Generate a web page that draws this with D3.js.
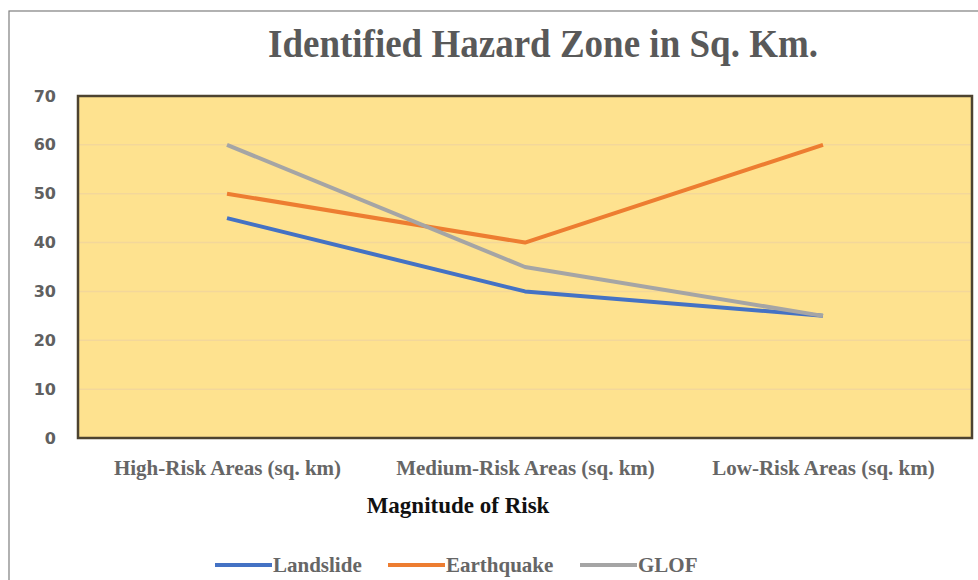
<!DOCTYPE html>
<html>
<head>
<meta charset="utf-8">
<script src="https://cdn.jsdelivr.net/npm/d3@7"></script>
<style>
  body { margin: 0; background: #fff; }
  svg { display: block; }
</style>
</head>
<body>
<svg id="chart" width="978" height="580"></svg>
<script>
// data
var categories = ["High-Risk Areas (sq. km)", "Medium-Risk Areas (sq. km)", "Low-Risk Areas (sq. km)"];
var landslide = [45, 30, 25];
var earthquake = [50, 40, 60];
var glof = [60, 35, 25];
var seriesNames = ["Landslide", "Earthquake", "GLOF"];
var yTicks = [0, 10, 20, 30, 40, 50, 60, 70];

var colors = ["#4472c4", "#ed7d31", "#a5a5a5"];
var series = [landslide, earthquake, glof];

var svg = d3.select("#chart");
var margin = {top: 96, right: 6, bottom: 142, left: 78};
var width = 978 - margin.left - margin.right,
    height = 580 - margin.top - margin.bottom;

// outer frame of the chart
svg.append("rect")
    .attr("x", 9).attr("y", 11)
    .attr("width", 990).attr("height", 600)
    .attr("fill", "#fff")
    .attr("stroke", "#7f7f7f")
    .attr("stroke-width", 1.2);

svg.append("text")
    .attr("x", 543).attr("y", 57)
    .attr("text-anchor", "middle")
    .attr("font-family", "Liberation Serif, serif")
    .attr("font-weight", "bold")
    .attr("font-size", 40)
    .attr("fill", "#595959")
    .attr("textLength", 550)
    .attr("lengthAdjust", "spacingAndGlyphs")
    .text("Identified Hazard Zone in Sq. Km.");

var x = d3.scalePoint().domain(categories).range([0, width]).padding(0.5);
var y = d3.scaleLinear().domain([0, 70]).range([height, 0]);

var g = svg.append("g")
    .attr("transform", "translate(" + margin.left + "," + margin.top + ")");

g.append("rect")
    .attr("width", width).attr("height", height)
    .attr("fill", "#fee28f");

// grid
g.selectAll(".grid")
    .data(yTicks.slice(1, -1)).enter()
  .append("line")
    .attr("x1", 0).attr("x2", width)
    .attr("y1", function(d) { return y(d); })
    .attr("y2", function(d) { return y(d); })
    .attr("stroke", "#f3d79a")
    .attr("stroke-width", 1.5);

var yAxis = d3.axisLeft(y).tickValues(yTicks).tickSize(0).tickPadding(22);
g.append("g").call(yAxis)
    .call(function(a) { a.select(".domain").remove(); })
    .selectAll("text")
    .attr("font-family", "DejaVu Sans, sans-serif")
    .attr("font-weight", "bold")
    .attr("font-size", 16)
    .attr("fill", "#606060");

var line = d3.line()
    .x(function(d, i) { return x(categories[i]); })
    .y(function(d) { return y(d); });

series.forEach(function(s, k) {
  g.append("path")
      .datum(s)
      .attr("d", line)
      .attr("fill", "none")
      .attr("stroke", colors[k])
      .attr("stroke-width", 4)
      .attr("stroke-linejoin", "round");
});

g.append("rect")
    .attr("width", width).attr("height", height)
    .attr("fill", "none")
    .attr("stroke", "#4d4330")
    .attr("stroke-width", 2.5);

var xAxis = d3.axisBottom(x).tickSize(0).tickPadding(22);
g.append("g")
    .attr("transform", "translate(0," + height + ")")
    .call(xAxis)
    .call(function(a) { a.select(".domain").remove(); })
    .selectAll("text")
    .attr("font-family", "Liberation Serif, serif")
    .attr("font-weight", "bold")
    .attr("font-size", 21)
    .attr("fill", "#666");

svg.append("text")
    .attr("x", 458).attr("y", 513)
    .attr("text-anchor", "middle")
    .attr("font-family", "Liberation Serif, serif")
    .attr("font-weight", "bold")
    .attr("font-size", 23)
    .attr("fill", "#111")
    .text("Magnitude of Risk");

// legend
var legendX = [215, 388, 580];
var legend = svg.selectAll(".legend")
    .data(seriesNames).enter()
  .append("g")
    .attr("transform", function(d, i) { return "translate(" + legendX[i] + ",565)"; });

legend.append("line")
    .attr("x1", 0).attr("x2", 57)
    .attr("stroke", function(d, i) { return colors[i]; })
    .attr("stroke-width", 4);

legend.append("text")
    .attr("x", 58).attr("y", 7)
    .attr("font-family", "Liberation Serif, serif")
    .attr("font-weight", "bold")
    .attr("font-size", 21)
    .attr("fill", "#666")
    .text(function(d) { return d; });
</script>
</body>
</html>
